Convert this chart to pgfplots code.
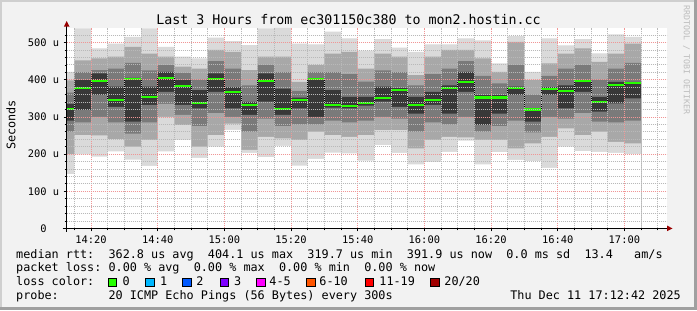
\documentclass[border=0pt]{standalone}
\usepackage{pgfplots}
\pgfplotsset{compat=1.18}
\usepackage{pgfplotstable}
\usepackage{fontspec}
\setmainfont{DejaVu Sans Mono}
\definecolor{bgc}{HTML}{F2F2F2}
\definecolor{frL}{HTML}{CFCFCF}
\definecolor{frD}{HTML}{A0A0A0}
\definecolor{cA}{HTML}{DADADA}
\definecolor{cB}{HTML}{A8A8A8}
\definecolor{cC}{HTML}{7A7A7A}
\definecolor{cD}{HTML}{383838}
\definecolor{med}{HTML}{26FF00}
\definecolor{arr}{HTML}{990000}
\definecolor{mgrid}{RGB}{240,150,150}
\definecolor{ngrid}{RGB}{185,185,185}
\definecolor{wm}{HTML}{BDBDBD}
\definecolor{l1}{HTML}{00B8FF}
\definecolor{l2}{HTML}{0059FF}
\definecolor{l3}{HTML}{7E00FF}
\definecolor{l4}{HTML}{FF00FF}
\definecolor{l6}{HTML}{FF5500}
\definecolor{l11}{HTML}{FF0000}
\definecolor{l20}{HTML}{A10000}
\newcommand\tickfont{\fontsize{10.4bp}{12bp}\selectfont}
\newcommand\legfont{\fontsize{11.8bp}{13bp}\selectfont}
\newcommand\titlefont{\fontsize{13.3bp}{15bp}\selectfont}
\newcommand\wmfont{\fontsize{8.3bp}{9bp}\selectfont}
\pgfplotstableread{
x    mn  q10 q25 q40 md  q60 q75 q90 mx
12.7 146 200 260 290 321 335 365 398 421
15   199 251 285 318 378 399 420 452 538
20   193 250 300 359 396 417 426 457 484
25   207 240 285 327 346 381 430 462 497
30   185 220 255 287 402 405 445 488 515
35   168 238 285 332 354 381 425 470 538
40   207 300 335 367 404 421 439 462 488
45   238 278 305 332 384 399 418 435 462
50   190 220 275 323 337 372 400 430 457
55   220 251 310 367 402 417 450 480 513
60   265 282 300 323 367 380 430 475 504
65   203 211 260 305 332 340 385 426 493
70   192 246 295 341 397 417 440 462 538
75   222 242 275 305 322 376 420 462 539
80   169 238 280 323 346 352 370 394 497
85   187 260 280 300 401 403 420 439 495
90   204 251 290 325 332 372 420 470 529
95   202 246 285 323 330 354 415 475 511
100  182 251 290 330 338 354 395 430 478
105  224 264 300 341 351 381 425 470 509
110  203 264 295 327 373 378 420 462 486
115  172 215 260 309 332 354 385 412 475
120  179 238 285 332 346 367 415 462 495
125  206 246 280 309 378 385 430 480 495
130  236 245 300 367 394 421 450 480 511
135  172 238 260 278 352 359 410 457 506
140  205 238 275 309 352 359 390 421 444
145  184 215 290 359 378 381 440 502 517
150  181 229 258 287 320 323 360 399 421
155  163 246 300 359 376 380 410 444 511
160  220 269 295 323 370 385 430 470 492
165  208 251 310 367 396 399 440 484 509
170  206 260 287 314 340 354 400 448 471
175  203 233 285 336 385 394 430 470 522
180  200 229 290 350 392 394 445 497 515
185  200 229 290 350 392 394 445 497 515
}\smoke
\begin{document}
\begin{tikzpicture}[x=1bp,y=1bp]
\fill[bgc] (0,0) rectangle (697,310);
\fill[frL] (0,0) rectangle (2,310);
\fill[frL] (0,308) rectangle (697,310);
\fill[frD] (694,0) rectangle (697,310);
\fill[frD] (0,0) rectangle (697,3);
\begin{axis}[
  at={(66.7bp,81.6bp)}, anchor=south west,
  scale only axis, width=600bp, height=200.4bp,
  xmin=12.7, xmax=192.7, ymin=0, ymax=539,
  axis background/.style={fill=white},
  axis on top,
  axis line style={draw=none},
  tick pos=left,
  tick align=outside,
  major tick length=3bp, minor tick length=2bp,
  every tick/.style={black, line width=0.6bp},
  xtick={20,40,...,180},
  xticklabels={14:20,14:40,15:00,15:20,15:40,16:00,16:20,16:40,17:00},
  minor xtick={15,25,30,35,45,50,55,65,70,75,85,90,95,105,110,115,125,130,135,145,150,155,165,170,175,185,190},
  ytick={0,100,...,500},
  yticklabels={{},100~u,200~u,300~u,400~u,500~u},
  minor ytick={20,40,60,80,120,140,160,180,220,240,260,280,320,340,360,380,420,440,460,480,520},
  grid=both,
  major grid style={mgrid, line width=0.7bp, dash pattern=on 1bp off 1bp},
  minor grid style={ngrid, line width=0.7bp, dash pattern=on 1bp off 1bp},
  xticklabel style={font=\tickfont, inner sep=0pt, anchor=north, yshift=-4bp},
  yticklabel style={font=\tickfont, inner sep=0pt, anchor=east, xshift=-4.4bp},
  clip=false,
]
\addplot[fill=cA, draw=none, const plot] table[x=x,y=mx]{\smoke} \closedcycle;
\addplot[fill=cB, draw=none, const plot] table[x=x,y=q90]{\smoke} \closedcycle;
\addplot[fill=cC, draw=none, const plot] table[x=x,y=q75]{\smoke} \closedcycle;
\addplot[fill=cD, draw=none, const plot] table[x=x,y=q60]{\smoke} \closedcycle;
\addplot[fill=cC, draw=none, const plot] table[x=x,y=q40]{\smoke} \closedcycle;
\addplot[fill=cB, draw=none, const plot] table[x=x,y=q25]{\smoke} \closedcycle;
\addplot[fill=cA, draw=none, const plot] table[x=x,y=q10]{\smoke} \closedcycle;
\addplot[fill=white, draw=none, const plot] table[x=x,y=mn]{\smoke} \closedcycle;
\addplot[black, line width=0.8bp, const plot, no marks] table[x=x,y=md]{\smoke};
\addplot[med, line width=2.2bp, jump mark left, no marks] table[x=x,y=md]{\smoke};
\end{axis}
% axis lines and arrows
\draw[black, line width=0.8bp] (62.7,81.6) -- (668,81.6);
\fill[arr] (667,84.4) -- (672.5,81.6) -- (667,78.8) -- cycle;
\draw[black, line width=0.8bp] (66.7,78.3) -- (66.7,285);
\fill[arr] (63.9,283.5) -- (66.7,289) -- (69.5,283.5) -- cycle;
% texts
\node[font=\tickfont, anchor=east, inner sep=0pt] at (46.8,81.6) {0};
\node[font=\titlefont, anchor=base, inner sep=0pt] at (348.5,286) {Last 3 Hours from ec301150c380 to mon2.hostin.cc};
\node[font=\legfont, rotate=90, anchor=base, inner sep=0pt] at (15.3,185) {Seconds};
\node[font=\wmfont, text=wm, rotate=-90, anchor=base, inner sep=0pt] at (683.8,250) {RRDTOOL / TOBI OETIKER};
\node[font=\legfont, anchor=base west, inner sep=0pt] at (16,51.7) {median~rtt:~~362.8~us~avg~~404.1~us~max~~319.7~us~min~~391.9~us~now~~0.0~ms~sd~~13.4~~~am/s};
\node[font=\legfont, anchor=base west, inner sep=0pt] at (16,38.3) {packet~loss:~0.00~\%~avg~~0.00~\%~max~~0.00~\%~min~~0.00~\%~now};
\node[font=\legfont, anchor=base west, inner sep=0pt] at (16,25) {loss~color:};
\foreach \xs/\xl/\cc/\lab in {108.3/122.5/med/0, 145.7/159.9/l1/1, 182.7/196.2/l2/2, 220/233.9/l3/3, 256.7/269.2/l4/4-5, 306.7/319.2/l6/6-10, 365/379.2/l11/11-19, 430.7/444.2/l20/{20/20}}{
  \filldraw[fill=\cc, draw=black, line width=0.8bp] (\xs,23.8) rectangle ++(8.2,8.2);
  \node[font=\legfont, anchor=base west, inner sep=0pt] at (\xl,25) {\lab};
}
\node[font=\legfont, anchor=base west, inner sep=0pt] at (16,10.7) {probe:~~~~~~~20~ICMP~Echo~Pings~(56~Bytes)~every~300s};
\node[font=\legfont, anchor=base east, inner sep=0pt] at (681,10.7) {Thu~Dec~11~17:12:42~2025};
\end{tikzpicture}
\end{document}
